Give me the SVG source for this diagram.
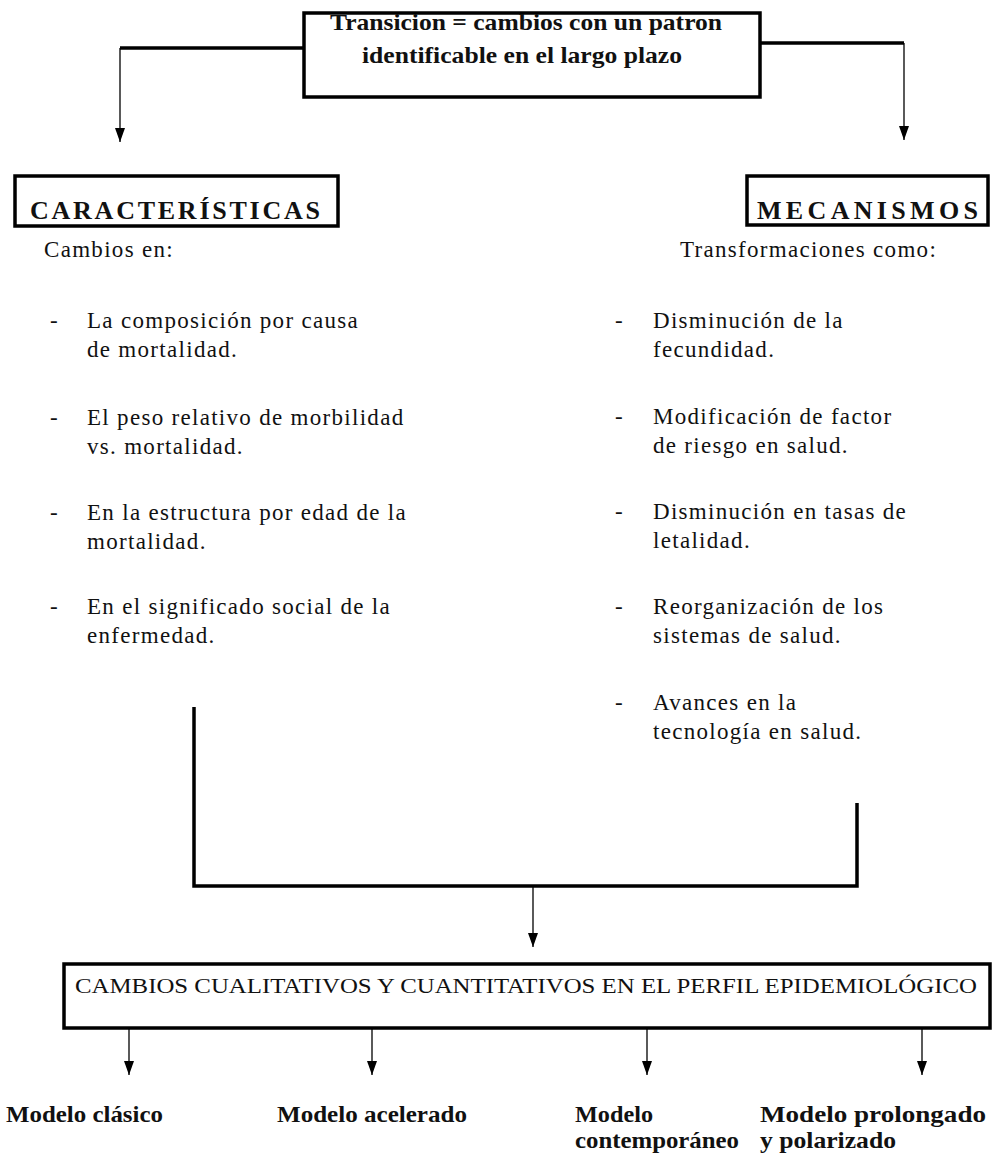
<svg xmlns="http://www.w3.org/2000/svg" width="993" height="1156" viewBox="0 0 993 1156">
<style>
.t{font-family:"Liberation Serif","Times New Roman",serif;font-size:23px;letter-spacing:1.3px;fill:#111}
.h{font-family:"Liberation Serif","Times New Roman",serif;font-size:26px;font-weight:bold;fill:#111}
.bc{font-family:"Liberation Serif","Times New Roman",serif;font-size:24px;font-weight:bold;fill:#111}
.rc{font-family:"Liberation Serif","Times New Roman",serif;font-size:22px;fill:#111}
.box{fill:#fff;stroke:#000;stroke-width:3.5}
.thick{fill:none;stroke:#000;stroke-width:3.5}
.thin{fill:none;stroke:#000;stroke-width:1.3}
</style>
<defs>
<marker id="ar" markerUnits="userSpaceOnUse" markerWidth="10" markerHeight="14" refX="5" refY="14" orient="0" viewBox="0 0 10 14">
<path d="M0,0 L10,0 L5,14 Z" fill="#000"/>
</marker>
</defs>
<rect width="993" height="1156" fill="#fff"/>

<g id="connectors">
<path class="thick" d="M304,48 H120"/>
<path class="thin" d="M120,48 V142" marker-end="url(#ar)"/>
<path class="thick" d="M760,43 H904"/>
<path class="thin" d="M904,43 V140" marker-end="url(#ar)"/>
<path class="thick" d="M194,707 V886 H857 V803"/>
<path class="thin" d="M533,886 V947" marker-end="url(#ar)"/>
<path class="thin" d="M129,1028 V1075" marker-end="url(#ar)"/>
<path class="thin" d="M372,1028 V1075" marker-end="url(#ar)"/>
<path class="thin" d="M647,1028 V1075" marker-end="url(#ar)"/>
<path class="thin" d="M922,1028 V1075" marker-end="url(#ar)"/>
</g>

<g id="transicion">
<rect class="box" x="304" y="13" width="456" height="84"/>
<text class="bc" x="330" y="30" textLength="392" lengthAdjust="spacingAndGlyphs">Transicion = cambios con un patron</text>
<text class="bc" x="362" y="63" textLength="320" lengthAdjust="spacingAndGlyphs">identificable en el largo plazo</text>
</g>

<g id="caracteristicas">
<rect class="box" x="15" y="176" width="323" height="50" stroke-width="2.5"/>
<text class="h" x="30" y="219" textLength="290" lengthAdjust="spacing">CARACTERÍSTICAS</text>
<text class="t" x="44" y="257">Cambios en:</text>
<text class="t" x="50" y="328">-</text>
<text class="t" x="87" y="328">La composición por causa</text>
<text class="t" x="87" y="357">de mortalidad.</text>
<text class="t" x="50" y="425">-</text>
<text class="t" x="87" y="425">El peso relativo de morbilidad</text>
<text class="t" x="87" y="454">vs.  mortalidad.</text>
<text class="t" x="50" y="520">-</text>
<text class="t" x="87" y="520">En la estructura por edad de la</text>
<text class="t" x="87" y="549">mortalidad.</text>
<text class="t" x="50" y="614">-</text>
<text class="t" x="87" y="614">En el significado social de la</text>
<text class="t" x="87" y="643">enfermedad.</text>
</g>

<g id="mecanismos">
<rect class="box" x="747" y="176" width="241" height="49" stroke-width="2.5"/>
<text class="h" x="757" y="219" textLength="221" lengthAdjust="spacing">MECANISMOS</text>
<text class="t" x="680" y="257">Transformaciones como:</text>
<text class="t" x="615" y="328">-</text>
<text class="t" x="653" y="328">Disminución de la</text>
<text class="t" x="653" y="357">fecundidad.</text>
<text class="t" x="615" y="424">-</text>
<text class="t" x="653" y="424">Modificación de factor</text>
<text class="t" x="653" y="453">de riesgo en salud.</text>
<text class="t" x="615" y="519">-</text>
<text class="t" x="653" y="519">Disminución en tasas de</text>
<text class="t" x="653" y="548">letalidad.</text>
<text class="t" x="615" y="614">-</text>
<text class="t" x="653" y="614">Reorganización de los</text>
<text class="t" x="653" y="643">sistemas de salud.</text>
<text class="t" x="615" y="710">-</text>
<text class="t" x="653" y="710">Avances en la</text>
<text class="t" x="653" y="739">tecnología en salud.</text>
</g>

<g id="cambios">
<rect class="box" x="64" y="964" width="926" height="64"/>
<text class="rc" x="75" y="993" textLength="902" lengthAdjust="spacingAndGlyphs">CAMBIOS CUALITATIVOS Y CUANTITATIVOS EN EL PERFIL EPIDEMIOLÓGICO</text>
</g>

<g id="modelo-clasico">
<text class="bc" x="6" y="1122" textLength="157" lengthAdjust="spacingAndGlyphs">Modelo clásico</text>
</g>
<g id="modelo-acelerado">
<text class="bc" x="277" y="1122" textLength="190" lengthAdjust="spacingAndGlyphs">Modelo  acelerado</text>
</g>
<g id="modelo-contemporaneo">
<text class="bc" x="575" y="1122" textLength="78" lengthAdjust="spacingAndGlyphs">Modelo</text>
<text class="bc" x="575" y="1148" textLength="164" lengthAdjust="spacingAndGlyphs">contemporáneo</text>
</g>
<g id="modelo-prolongado">
<text class="bc" x="760" y="1122" textLength="226" lengthAdjust="spacingAndGlyphs">Modelo prolongado</text>
<text class="bc" x="760" y="1148" textLength="136" lengthAdjust="spacingAndGlyphs">y polarizado</text>
</g>
</svg>
